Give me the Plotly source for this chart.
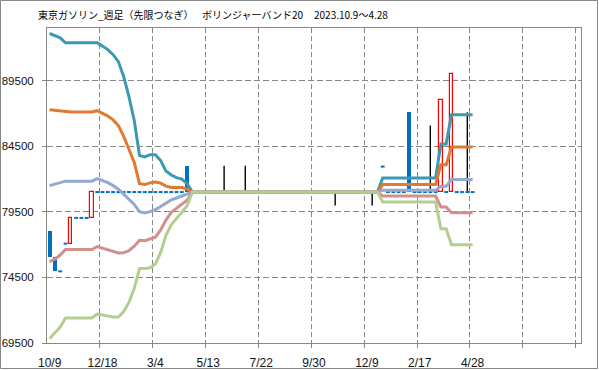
import plotly.graph_objects as go

# ---------------- data (weekly, index 0 = 2023/10/9) ----------------
tick_idx = [0, 10, 20, 30, 40, 50, 60, 70, 80]
tick_labels = ["10/9", "12/18", "3/4", "5/13", "7/22", "9/30", "12/9", "2/17", "4/28"]

open_ = [
    78060, 76060, 74960, 77070, 77070, 79030, 79030, 79030, 79030, 81000,
    81000, 81000, 81000, 81000, 81000, 81000, 81000, 81000, 81000, 81000,
    81000, 81000, 81000, 81000, 81000, 81000, 83000, 81000, 81000, 81000,
    81000, 81000, 81000, 81000, 81000, 81000, 81000, 81000, 81000, 81000,
    81000, 81000, 81000, 81000, 81000, 81000, 81000, 81000, 81000, 81000,
    81000, 81000, 81000, 81000, 81000, 81000, 81000, 81000, 81000, 81000,
    81000, 81000, 81000, 82940, 81000, 81000, 81000, 81000, 87080, 81000,
    81000, 81000, 81000, 81000, 81000, 81000, 81000, 81000, 81000, 81000,
    81000,
]
high = [
    78060, 76060, 74960, 77070, 79030, 79030, 79030, 79030, 81000, 81000,
    81000, 81000, 81000, 81000, 81000, 81000, 81000, 81000, 81000, 81000,
    81000, 81000, 81000, 81000, 81000, 81000, 83000, 81000, 81000, 81000,
    81000, 81000, 81000, 83010, 81000, 81000, 81000, 83010, 81000, 81000,
    81000, 81000, 81000, 81000, 81000, 81000, 81000, 81000, 81000, 81000,
    81000, 81000, 81000, 81000, 81000, 81000, 81000, 81000, 81000, 81000,
    81000, 81000, 81000, 82940, 81000, 81000, 81000, 81000, 87080, 81000,
    81000, 81000, 86070, 81000, 88050, 81000, 90030, 81000, 81000, 87080,
    81000,
]
low = [
    76060, 74960, 74960, 77070, 77070, 79030, 79030, 79030, 79030, 81000,
    81000, 81000, 81000, 81000, 81000, 81000, 81000, 81000, 81000, 81000,
    81000, 81000, 81000, 81000, 81000, 81000, 81000, 81000, 81000, 81000,
    81000, 81000, 81000, 81000, 81000, 81000, 81000, 81000, 81000, 81000,
    81000, 81000, 81000, 81000, 81000, 81000, 81000, 81000, 81000, 81000,
    81000, 81000, 81000, 81000, 79970, 81000, 81000, 81000, 81000, 81000,
    81000, 79970, 81000, 82940, 81000, 81000, 81000, 81000, 81000, 81000,
    81000, 81000, 81000, 81000, 81000, 81000, 81000, 81000, 81000, 81000,
    81000,
]
close = [
    76060, 74960, 74960, 77070, 79030, 79030, 79030, 79030, 81000, 81000,
    81000, 81000, 81000, 81000, 81000, 81000, 81000, 81000, 81000, 81000,
    81000, 81000, 81000, 81000, 81000, 81000, 81000, 81000, 81000, 81000,
    81000, 81000, 81000, 81000, 81000, 81000, 81000, 81000, 81000, 81000,
    81000, 81000, 81000, 81000, 81000, 81000, 81000, 81000, 81000, 81000,
    81000, 81000, 81000, 81000, 81000, 81000, 81000, 81000, 81000, 81000,
    81000, 81000, 81000, 82940, 81000, 81000, 81000, 81000, 81000, 81000,
    81000, 81000, 81000, 81000, 88050, 81000, 90030, 81000, 81000, 81000,
    81000,
]

band_p2 = [
    93080, 92900, 92750, 92370, 92370, 92370, 92370, 92370, 92370, 92370,
    92120, 91855, 91470, 90940, 89800, 88270, 86450, 83780, 83680, 83850,
    83850, 83400, 82600, 82300, 82100, 81990, 81640, 81000, 81000, 81000,
    81000, 81000, 81000, 81000, 81000, 81000, 81000, 81000, 81000, 81000,
    81000, 81000, 81000, 81000, 81000, 81000, 81000, 81000, 81000, 81000,
    81000, 81000, 81000, 81000, 81000, 81000, 81000, 81000, 81000, 81000,
    81000, 81000, 81000, 82080, 82080, 82080, 82080, 82080, 82080, 82080,
    82080, 82080, 82080, 82080, 84670, 84670, 86900, 86900, 86900, 86900,
    86900,
]
band_p1 = [
    87280, 87230, 87180, 87100, 87100, 87100, 87100, 87100, 87100, 87200,
    87000, 86790, 86500, 86070, 85250, 84300, 83250, 81640, 81570, 81700,
    81770, 81680, 81450, 81350, 81330, 81340, 81220, 81000, 81000, 81000,
    81000, 81000, 81000, 81000, 81000, 81000, 81000, 81000, 81000, 81000,
    81000, 81000, 81000, 81000, 81000, 81000, 81000, 81000, 81000, 81000,
    81000, 81000, 81000, 81000, 81000, 81000, 81000, 81000, 81000, 81000,
    81000, 81000, 81000, 81570, 81570, 81570, 81570, 81570, 81570, 81570,
    81570, 81570, 81570, 81570, 83090, 83090, 84440, 84440, 84440, 84440,
    84440,
]
band_mid = [
    81490, 81600, 81760, 81830, 81830, 81830, 81830, 81830, 81830, 82020,
    81870, 81720, 81490, 81220, 80840, 80420, 80060, 79510, 79410, 79510,
    79660, 79900, 80150, 80400, 80550, 80700, 80800, 81000, 81000, 81000,
    81000, 81000, 81000, 81000, 81000, 81000, 81000, 81000, 81000, 81000,
    81000, 81000, 81000, 81000, 81000, 81000, 81000, 81000, 81000, 81000,
    81000, 81000, 81000, 81000, 81000, 81000, 81000, 81000, 81000, 81000,
    81000, 81000, 81000, 81130, 81130, 81130, 81130, 81130, 81130, 81130,
    81130, 81130, 81130, 81130, 81440, 81440, 81950, 81950, 81950, 81950,
    81950,
]
band_m1 = [
    75700, 75900, 76200, 76620, 76620, 76620, 76620, 76620, 76620, 76850,
    76720, 76600, 76470, 76365, 76370, 76530, 76870, 77330, 77300, 77420,
    77565, 78120, 78870, 79450, 79775, 80060, 80380, 81000, 81000, 81000,
    81000, 81000, 81000, 81000, 81000, 81000, 81000, 81000, 81000, 81000,
    81000, 81000, 81000, 81000, 81000, 81000, 81000, 81000, 81000, 81000,
    81000, 81000, 81000, 81000, 81000, 81000, 81000, 81000, 81000, 81000,
    81000, 81000, 81000, 80700, 80700, 80700, 80700, 80700, 80700, 80700,
    80700, 80700, 80700, 80700, 79870, 79870, 79420, 79420, 79420, 79420,
    79420,
]
band_m2 = [
    69850, 70250, 70720, 71400, 71400, 71400, 71400, 71400, 71400, 71700,
    71630, 71570, 71490, 71480, 71890, 72600, 73670, 75170, 75170, 75230,
    75520, 76400, 77700, 78500, 79000, 79420, 79960, 81000, 81000, 81000,
    81000, 81000, 81000, 81000, 81000, 81000, 81000, 81000, 81000, 81000,
    81000, 81000, 81000, 81000, 81000, 81000, 81000, 81000, 81000, 81000,
    81000, 81000, 81000, 81000, 81000, 81000, 81000, 81000, 81000, 81000,
    81000, 81000, 81000, 80250, 80250, 80250, 80250, 80250, 80250, 80250,
    80250, 80250, 80250, 80250, 78200, 78200, 76990, 76990, 76990, 76990,
    76990,
]

y_ticks = [69500, 74500, 79500, 84500, 89500]

# ---------------- layout constants ----------------
W, H = 599, 370
ML, MR, MT, MB = 47, 18, 28, 27
PW, PH = W - ML - MR, H - MT - MB
N_CAT = 101

def px_x(px):
    return (px - ML) / PW

def px_y(py):
    return 1 - (py - MT) / PH

GRID = "#868686"
BLUE = "#0070C0"
RED = "#FF0000"

x = list(range(len(close)))
fig = go.Figure()

# high-low lines
wx, wy = [], []
for i in x:
    if high[i] > max(open_[i], close[i]) or low[i] < min(open_[i], close[i]):
        wx += [i, i, None]
        wy += [low[i], high[i], None]
fig.add_trace(go.Scatter(x=wx, y=wy, mode="lines",
                         line=dict(color="#000000", width=1.4), hoverinfo="skip"))

# bodies
up_x, up_b, up_h, dn_x, dn_b, dn_h, dj_x, dj_y = [], [], [], [], [], [], [], []
for i in x:
    o, c = open_[i], close[i]
    if c > o:
        up_x.append(i); up_b.append(o); up_h.append(c - o)
    elif c < o:
        dn_x.append(i); dn_b.append(c); dn_h.append(o - c)
    else:
        dj_x += [i - 0.36, i + 0.36, None]
        dj_y += [c, c, None]

fig.add_trace(go.Scatter(x=dj_x, y=dj_y, mode="lines",
                         line=dict(color=BLUE, width=2), hoverinfo="skip"))
fig.add_trace(go.Bar(x=dn_x, y=dn_h, base=dn_b, width=0.74,
                     marker=dict(color=BLUE, line=dict(width=0))))
fig.add_trace(go.Bar(x=up_x, y=up_h, base=up_b, width=0.62,
                     marker=dict(color="#FFFFFF", line=dict(color=RED, width=1.2))))

# bollinger bands
for ys, col in [(band_p2, "#3B9AB2"), (band_p1, "#E2792F"), (band_mid, "#93A9D3"),
                (band_m1, "#D38F8C"), (band_m2, "#B6CD90")]:
    fig.add_trace(go.Scatter(x=x, y=ys, mode="lines",
                             line=dict(color=col, width=3), hoverinfo="skip"))

font_tick = dict(family="Liberation Sans", size=12, color="#111111")
font_ytick = dict(family="Liberation Sans", size=11.5, color="#111111")

fig.update_layout(
    width=W, height=H,
    margin=dict(l=ML, r=MR, t=MT, b=MB, pad=0, autoexpand=False),
    paper_bgcolor="#FFFFFF", plot_bgcolor="#FFFFFF",
    showlegend=False, barmode="overlay", bargap=0,
    xaxis=dict(
        range=[-0.5, N_CAT - 0.5], tickmode="array",
        tickvals=tick_idx, ticktext=tick_labels, automargin=False,
        ticks="", showgrid=False, zeroline=False,
        showline=True, linecolor=GRID, linewidth=1, mirror=True,
        tickfont=font_tick, ticklabelstandoff=9,
        minor=dict(tickmode="array",
                   tickvals=[k - 0.5 for k in range(10, N_CAT, 10)],
                   ticks="outside", ticklen=4, tickcolor=GRID,
                   showgrid=True, gridcolor=GRID, gridwidth=1,
                   griddash="5px,3px"),
    ),
    yaxis=dict(
        range=[69500, 93500], tickmode="array", tickvals=y_ticks,
        tickformat="d", automargin=False,
        ticks="outside", ticklen=4, tickcolor=GRID,
        showgrid=True, gridcolor=GRID, gridwidth=1, griddash="6px,3px",
        zeroline=False, showline=True, linecolor=GRID, linewidth=1, mirror=True,
        tickfont=font_ytick, ticklabelstandoff=6,
    ),
    shapes=[dict(type="rect", xref="paper", yref="paper",
                 x0=px_x(0.5), x1=px_x(W - 1.5), y0=px_y(H - 1.5), y1=px_y(0.5),
                 line=dict(color=GRID, width=1), fillcolor="rgba(0,0,0,0)",
                 layer="below")],
)

title_parts = [("東京ガソリン_週足（先限つなぎ）", 36),
               ("ボリンジャーバンド20", 200),
               ("2023.10.9～4.28", 312)]
for txt, px in title_parts:
    fig.add_annotation(text=txt, xref="paper", yref="paper",
                       x=px_x(px), y=px_y(15), xanchor="left", yanchor="middle",
                       showarrow=False,
                       font=dict(family="Noto Sans CJK JP", size=10, color="#000000"))

fig.write_html("out.html",
               config={"displayModeBar": False},
               post_script="document.body.style.margin='0px';document.body.style.overflow='hidden';")
